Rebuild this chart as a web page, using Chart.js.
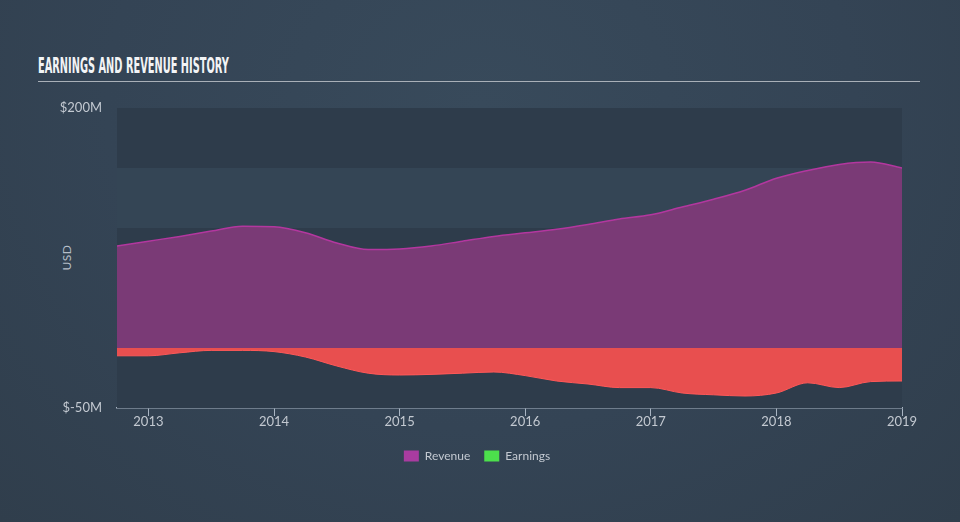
<!DOCTYPE html>
<html>
<head>
<meta charset="utf-8">
<script src="https://cdn.jsdelivr.net/npm/chart.js@4.4.1/dist/chart.umd.min.js"></script>
<style>
  html, body { margin: 0; padding: 0; }
  body {
    width: 960px; height: 522px; overflow: hidden; position: relative;
    background: radial-gradient(ellipse at 50% 20%, #384a5b 0%, #344455 55%, #303e4c 100%);
    font-family: Lato, "Open Sans", sans-serif;
  }
  #title {
    position: absolute; left: 38px; top: 55px;
    font-family: "Liberation Sans Narrow", "DejaVu Sans Condensed", sans-serif;
    font-weight: bold; font-size: 22px; color: #f2f4f6; white-space: nowrap;
    transform-origin: 0 0; line-height: 22px;
  }
  #rule { position: absolute; left: 38px; top: 81px; width: 882px; height: 1px; background: #a9b0b8; }
  #usd {
    position: absolute; left: 54px; top: 250px; color: #b6bec8; font-size: 12px;
    transform: rotate(-90deg); transform-origin: center center; letter-spacing: 0.5px;
  }
  canvas { position: absolute; left: 0; top: 0; }
</style>
</head>
<body>
<div id="title">EARNINGS AND REVENUE HISTORY</div>
<div id="rule"></div>
<div id="usd">USD</div>
<canvas id="chart" width="960" height="522"></canvas>
<script>
// quarterly points, decimal years
var quarters = [2012.75, 2013.0, 2013.25, 2013.5, 2013.75, 2014.0, 2014.25, 2014.5, 2014.75,
                2015.0, 2015.25, 2015.5, 2015.75, 2016.0, 2016.25, 2016.5, 2016.75,
                2017.0, 2017.25, 2017.5, 2017.75, 2018.0, 2018.25, 2018.5, 2018.75, 2019.0];
// $M
var revenue = [85, 89, 93, 97.5, 101.5, 101, 96, 87.5, 82, 82.5, 85, 89, 93, 96, 99, 103, 107.5,
               111, 117.5, 124, 131.5, 141.5, 148, 153, 155, 150];
var earnings = [-6.5, -6.5, -4, -2, -2, -3, -7.5, -15, -21, -22.5, -22, -21, -20, -23, -27.5, -30, -33,
                -33, -37.5, -39, -40, -37.5, -29, -33, -28, -27.5];
var yearTicks = [2013, 2014, 2015, 2016, 2017, 2018, 2019];
var yTicks = [-50, 200];
var bandEdges = [200, 150, 100, 50, 0, -50];

// squeeze the title to the reference width
var t = document.getElementById('title');
t.style.transform = 'scaleX(' + (191 / t.offsetWidth) + ')';

function pts(vals) {
    return quarters.map(function (q, i) { return { x: q, y: vals[i] }; });
}

var bands = {
    id: 'bands',
    beforeDatasetsDraw: function (chart) {
        var ctx = chart.ctx, a = chart.chartArea, ys = chart.scales.y;
        for (var i = 0; i < bandEdges.length - 1; i++) {
            var top = ys.getPixelForValue(bandEdges[i]);
            var bot = ys.getPixelForValue(bandEdges[i + 1]);
            ctx.fillStyle = (i % 2 === 0) ? '#2e3c4b' : '#344555';
            ctx.fillRect(a.left, top, a.right - a.left, bot - top);
        }
    }
};

var tickColor = '#c3c9d1';
var axisColor = '#a9b5c3';

new Chart(document.getElementById('chart').getContext('2d'), {
    type: 'line',
    data: {
        datasets: [
            {
                label: 'Revenue',
                data: pts(revenue),
                borderColor: '#b3379f',
                borderWidth: 1.5,
                backgroundColor: '#a93ca0',
                fill: { target: 'origin', above: '#7a3a76', below: '#7a3a76' },
                pointRadius: 0,
                cubicInterpolationMode: 'monotone'
            },
            {
                label: 'Earnings',
                data: pts(earnings),
                borderColor: '#ff5858',
                borderWidth: 1,
                backgroundColor: '#4ce04c',
                fill: { target: 'origin', above: '#e84f4f', below: '#e84f4f' },
                pointRadius: 0,
                cubicInterpolationMode: 'monotone'
            }
        ]
    },
    options: {
        responsive: false,
        animation: false,
        layout: { padding: { left: 52, right: 58, top: 108, bottom: 50 } },
        plugins: {
            tooltip: { enabled: false },
            legend: {
                position: 'bottom',
                labels: {
                    color: tickColor,
                    font: { family: 'Lato', size: 12 },
                    boxWidth: 15,
                    boxHeight: 11,
                    padding: 14,
                    generateLabels: function (chart) {
                        return chart.data.datasets.map(function (ds, i) {
                            return { text: ds.label, fillStyle: ds.backgroundColor, strokeStyle: ds.backgroundColor,
                                     lineWidth: 0, fontColor: tickColor, datasetIndex: i };
                        });
                    }
                }
            }
        },
        scales: {
            x: {
                type: 'linear',
                min: quarters[0],
                max: quarters[quarters.length - 1],
                afterBuildTicks: function (s) { s.ticks = yearTicks.map(function (v) { return { value: v }; }); },
                afterFit: function (s) { s.height = 28; },
                grid: { display: true, drawOnChartArea: false, drawTicks: true, tickLength: 8, color: axisColor },
                border: { display: true, color: axisColor, width: 1.5 },
                ticks: {
                    color: tickColor, padding: -2, maxRotation: 0,
                    font: { family: 'Lato', size: 13 },
                    callback: function (v) { return String(v); }
                }
            },
            y: {
                min: -50,
                max: 200,
                afterBuildTicks: function (s) { s.ticks = yTicks.map(function (v) { return { value: v }; }); },
                afterFit: function (s) { s.width = 65; },
                grid: { display: false, drawTicks: false },
                border: { display: false },
                ticks: {
                    color: tickColor, padding: 15,
                    font: { family: 'Lato', size: 13 },
                    callback: function (v) { return '$' + v + 'M'; }
                }
            }
        }
    },
    plugins: [bands]
});
</script>
</body>
</html>
